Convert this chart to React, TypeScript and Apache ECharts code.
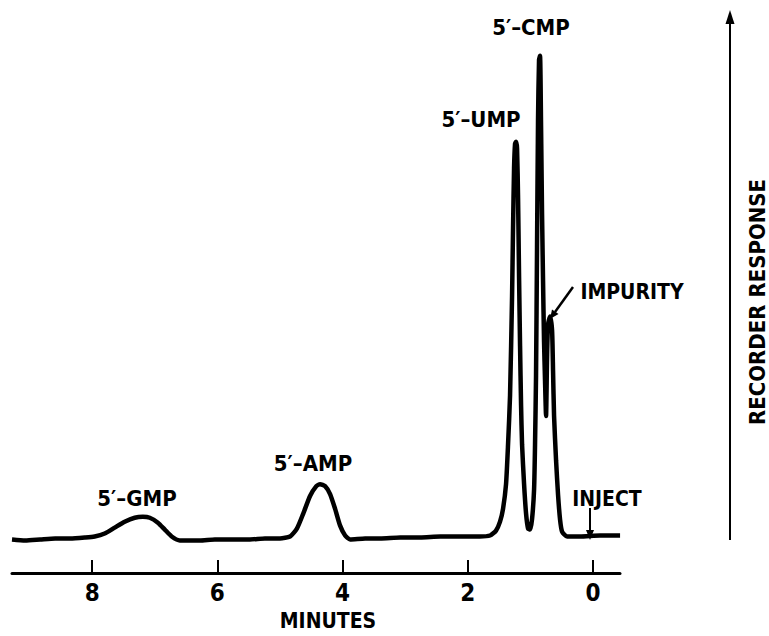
import React, { useEffect, useRef } from "react";
import * as echarts from "echarts";

// Retention time (minutes) and recorder response (arbitrary units)
const minutes = [
  9.28, 9.07, 8.83, 8.59, 8.35, 8.11, 7.96, 7.8, 7.64, 7.48, 7.32, 7.19, 7.08, 6.95, 6.84, 6.73, 6.6,
  6.28, 6.04, 5.8, 5.48, 5.24, 5.0, 4.84, 4.73, 4.63, 4.52, 4.42, 4.36, 4.28, 4.2, 4.12, 4.04, 3.96,
  3.88, 3.64, 3.4, 3.08, 2.76, 2.44, 2.12, 1.81, 1.645, 1.55, 1.486, 1.438, 1.39, 1.358, 1.326, 1.294,
  1.278, 1.262, 1.246, 1.23, 1.214, 1.198, 1.182, 1.166, 1.15, 1.134, 1.102, 1.07, 1.038, 1.006,
  0.974, 0.942, 0.927, 0.911, 0.895, 0.879, 0.863, 0.847, 0.831, 0.815, 0.799, 0.783, 0.767, 0.751,
  0.735, 0.719, 0.687, 0.655, 0.639, 0.623, 0.591, 0.559, 0.527, 0.495, 0.415, 0.208, -0.112, -0.431,
];
const response = [
  0, -1, 0, 1, 1, 2, 3, 6, 12, 18, 22, 23, 22, 17, 10, 3, -1,
  -1, 0, 0, 0, 1, 1, 3, 11, 26, 44, 54, 56, 54, 46, 31, 14, 4,
  0, 1, 1, 2, 2, 3, 3, 3, 4, 9, 18, 31, 56, 96, 146, 246,
  316, 376, 401, 403, 396, 346, 266, 196, 136, 96, 56, 26, 11, 10,
  21, 51, 96, 166, 296, 426, 486, 490, 420, 330, 262, 200, 160, 125,
  185, 218, 226, 212, 170, 125, 80, 45, 20, 8, 3, 3, 4, 4,
];

const tickValues = [0, 2, 4, 6, 8];
const peakNames = ["5′–GMP", "5′–AMP", "5′–UMP", "5′–CMP"];
const impurityName = "IMPURITY";
const injectName = "INJECT";
const xAxisTitle = "MINUTES";
const yAxisTitle = "RECORDER RESPONSE";

const FONT = "'DejaVu Sans Condensed', 'DejaVu Sans', sans-serif";

export default function App() {
  const ref = useRef<HTMLDivElement>(null);
  useEffect(() => {
    document.body.style.margin = "0";
    const chart = echarts.init(ref.current!, null, { renderer: "svg" });
    const data = minutes.map((m, i) => [m, response[i]]);
    const txt = (text: string, x: number, y: number, size = 22, rotation = 0) => ({
      type: "text",
      x,
      y,
      rotation,
      style: {
        text,
        fill: "#000",
        fontSize: size,
        fontWeight: "bold",
        fontFamily: FONT,
        textAlign: "center",
        textVerticalAlign: "middle",
        align: "center",
        verticalAlign: "middle",
      },
    });
    chart.setOption({
      animation: false,
      backgroundColor: "#fff",
      grid: { left: 12, right: 149, top: 46, bottom: 56, containLabel: false },
      xAxis: {
        type: "value",
        inverse: true,
        min: -0.43,
        max: 9.28,
        name: xAxisTitle,
        nameLocation: "middle",
        nameGap: 37,
        nameTextStyle: {
          color: "#000",
          fontSize: 21,
          fontWeight: "bold",
          fontFamily: FONT,
          padding: [0, 0, 0, 24],
        },
        axisLine: { onZero: false, lineStyle: { color: "#000", width: 3 } },
        axisTick: { inside: true, length: 13, lineStyle: { color: "#000", width: 2 }, customValues: tickValues },
        axisLabel: {
          color: "#000",
          fontSize: 24,
          fontWeight: "bold",
          fontFamily: FONT,
          margin: 8,
          customValues: tickValues,
        },
        splitLine: { show: false },
      },
      yAxis: {
        type: "value",
        min: -34,
        max: 500,
        show: false,
      },
      series: [
        {
          type: "line",
          data,
          showSymbol: false,
          smooth: 0.2,
          lineStyle: { color: "#000", width: 4.5 },
          clip: false,
        },
      ],
      graphic: [
        txt(peakNames[0], 137, 498),
        txt(peakNames[1], 313, 463),
        txt(peakNames[2], 481, 119),
        txt(peakNames[3], 531, 27),
        txt(impurityName, 632, 292, 21),
        txt(injectName, 607, 499, 21),
        txt(yAxisTitle, 757, 302, 22, Math.PI / 2),
        { type: "line", shape: { x1: 573, y1: 287, x2: 555, y2: 312 }, style: { stroke: "#000", lineWidth: 2.5 } },
        { type: "polygon", shape: { points: [[550, 319], [558.5, 314], [552, 309.4]] }, style: { fill: "#000" } },
        { type: "line", shape: { x1: 590, y1: 508, x2: 590, y2: 531 }, style: { stroke: "#000", lineWidth: 2 } },
        { type: "polygon", shape: { points: [[590, 540], [586, 530], [594, 530]] }, style: { fill: "#000" } },
        { type: "line", shape: { x1: 730, y1: 22, x2: 730, y2: 540 }, style: { stroke: "#000", lineWidth: 2 } },
        { type: "polygon", shape: { points: [[730, 10], [725.5, 24], [734.5, 24]] }, style: { fill: "#000" } },
      ],
    });
    return () => chart.dispose();
  }, []);
  return <div ref={ref} style={{ width: 769, height: 636 }} />;
}
